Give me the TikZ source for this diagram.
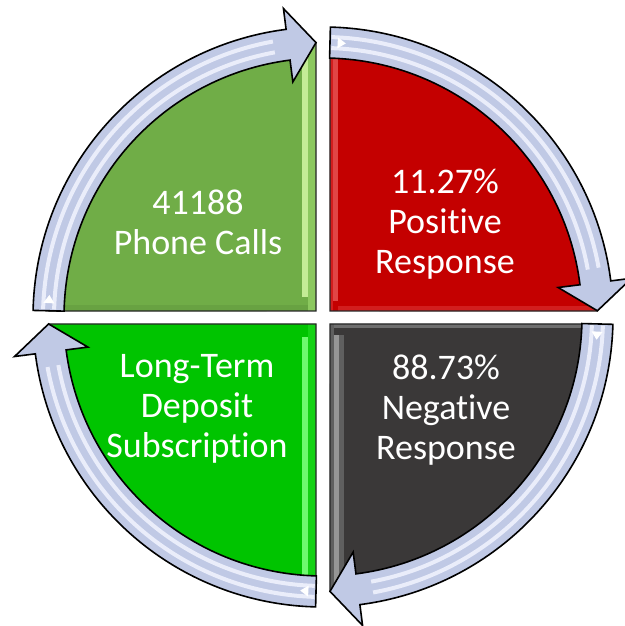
\documentclass[tikz,border=0pt]{standalone}
\usepackage{fontspec}
\setmainfont{Carlito}[Ligatures=NoCommon]
\definecolor{oliveq}{RGB}{112,173,71}
\definecolor{redq}{RGB}{196,0,0}
\definecolor{darkq}{RGB}{58,56,56}
\definecolor{limeq}{RGB}{0,196,0}
\definecolor{bandfill}{RGB}{192,201,229}
\definecolor{bandlight}{RGB}{234,237,250}
\definecolor{olivelight}{RGB}{196,236,150}
\definecolor{olivemid}{RGB}{140,200,95}
\definecolor{olivedark}{RGB}{104,162,66}
\definecolor{redlight}{RGB}{225,70,70}
\definecolor{redmid}{RGB}{210,30,30}
\definecolor{greylight}{RGB}{150,150,150}
\definecolor{greymid}{RGB}{95,95,95}
\definecolor{greyedge}{RGB}{110,110,110}
\definecolor{limelight}{RGB}{110,250,110}
\definecolor{limemid}{RGB}{20,210,20}
\begin{document}
\begin{tikzpicture}[x=1pt,y=1pt,
  arrowband/.style={fill=bandfill, draw=black, line width=1.6pt, line join=miter},
  bandhl/.style={draw=bandlight, line width=4pt},
  sectorline/.style={draw=black!85, line width=1.2pt},
  label/.style={text=white, align=center, font=\fontsize{36}{40}\selectfont, inner sep=0pt}]
\useasboundingbox (0,0) rectangle (624,626);
\newcommand{\cycarrow}[2]{%
  \pgfmathsetmacro\bs{#2+5.85}%
  \pgfmathsetmacro\ta{#1-1.6}%
  \pgfmathsetmacro\tb{#1-3.3}%
  \pgfmathsetmacro\hs{#1-0.3}%
  \pgfmathsetmacro\he{\bs+3}%
  \filldraw[arrowband] (#1:259pt) arc[start angle=#1, end angle=\bs, radius=259pt]
    -- (\bs:237pt) -- (#2:274.5pt) -- (\bs:311pt) -- (\bs:290pt)
    arc[start angle=\bs, end angle=#1, radius=290pt] -- cycle;
  \draw[bandhl] (\hs:269pt) arc[start angle=\hs, end angle=\he, radius=269pt];
  \draw[bandhl] (\hs:280pt) arc[start angle=\hs, end angle=\he, radius=280pt];
  \fill[white] (\ta:269pt) -- (\ta:280pt) -- (\tb:274.5pt) -- cycle;
}
\begin{scope}[shift={(323,309)}]
  \def\secA{(-7,6) -- (178.75:274pt) arc[start angle=178.75, end angle=91.46, radius=274pt] -- cycle}
  \def\secB{(7,6) -- (88.54:274pt) arc[start angle=88.54, end angle=1.25, radius=274pt] -- cycle}
  \def\secC{(7,-7) -- (-1.45:274pt) arc[start angle=-1.45, end angle=-88.54, radius=274pt] -- cycle}
  \def\secD{(-7,-7) -- (-91.46:274pt) arc[start angle=-91.46, end angle=-178.55, radius=274pt] -- cycle}
  \fill[oliveq] \secA;
  \begin{scope}\clip \secA;
    \fill[olivelight] (-21,20) -- (-21,300) -- (-15,300) -- (-15,20) -- cycle;
    \fill[olivemid] (-15,6) rectangle (-7,300);
    \fill[olivedark] (-300,6) rectangle (-15,12);
  \end{scope}
  \draw[sectorline] \secA;
  \fill[redq] \secB;
  \begin{scope}\clip \secB;
    \fill[redmid] (7,6) rectangle (10,300);
    \fill[redlight] (10,16) rectangle (15,300);
    \fill[redmid] (15,6) rectangle (300,11);
  \end{scope}
  \draw[sectorline] \secB;
  \fill[darkq] \secC;
  \begin{scope}\clip \secC;
    \fill[greymid] (7,-7) rectangle (11,-300);
    \fill[greylight] (11,-18) rectangle (16,-300);
    \fill[greymid] (16,-18) rectangle (21,-300);
    \fill[greyedge] (11,-7) rectangle (300,-11);
  \end{scope}
  \draw[sectorline] \secC;
  \fill[limeq] \secD;
  \begin{scope}\clip \secD;
    \fill[limelight] (-21,-20) rectangle (-15,-300);
    \fill[limemid] (-15,-7) rectangle (-7,-300);
  \end{scope}
  \draw[sectorline] \secD;
  \cycarrow{178.7}{91.46}
  \cycarrow{88.54}{1.3}
  \cycarrow{-1.45}{-88.54}
  \cycarrow{-91.46}{-178.55}
\end{scope}
\node[label, anchor=base] (calls) at (198,371) {41188\\Phone Calls};
\node[label, anchor=base] (pos) at (445,352) {11.27\%\\Positive\\Response};
\node[label, anchor=base] (ltd) at (197,168) {Long-Term\\Deposit\\Subscription};
\node[label, anchor=base] (neg) at (446,166) {88.73\%\\Negative\\Response};
\end{tikzpicture}
\end{document}
